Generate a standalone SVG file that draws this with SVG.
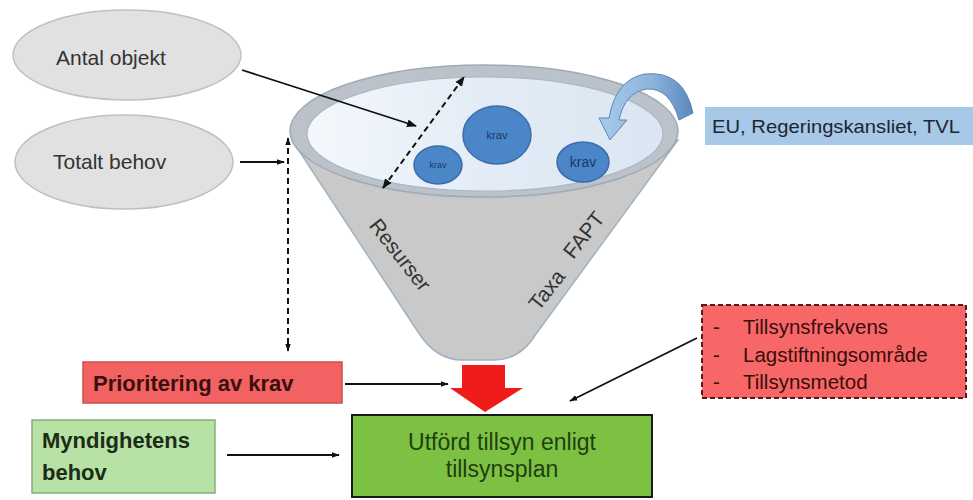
<svg xmlns="http://www.w3.org/2000/svg" width="973" height="500" viewBox="0 0 973 500">
  <defs>
    <style>
      .t { font-family: "Liberation Sans", Arial, sans-serif; }
      .oval { fill: #e1e1e1; stroke: #b6c2ce; stroke-width: 1.5; }
      .conn { stroke: #111; stroke-width: 1.8; fill: none; }
      .dash { stroke: #111; stroke-width: 2; fill: none; stroke-dasharray: 6 4; }
      .krav { fill: #4a86c8; stroke: #3a6ea8; stroke-width: 1.5; }
      .kt { font-family: "Liberation Sans", Arial, sans-serif; fill: #1c3766; text-anchor: middle; }
    </style>
    <marker id="ah" viewBox="0 0 10 10" refX="9" refY="5" markerWidth="8" markerHeight="8" orient="auto-start-reverse" markerUnits="userSpaceOnUse">
      <path d="M0,1.5 L10,5 L0,8.5 Z" fill="#111"/>
    </marker>
    <marker id="ah2" viewBox="0 0 10 10" refX="9" refY="5" markerWidth="10" markerHeight="10" orient="auto-start-reverse" markerUnits="userSpaceOnUse">
      <path d="M0,1 L10,5 L0,9 Z" fill="#111"/>
    </marker>
    <linearGradient id="inner" x1="0" y1="0" x2="1" y2="0">
      <stop offset="0" stop-color="#f4f8fc"/>
      <stop offset="0.5" stop-color="#e3ecf6"/>
      <stop offset="1" stop-color="#dbe6f2"/>
    </linearGradient>
    <linearGradient id="curl" x1="0" y1="0" x2="1" y2="0">
      <stop offset="0" stop-color="#a9caea"/>
      <stop offset="0.55" stop-color="#8db4dc"/>
      <stop offset="1" stop-color="#5a88bd"/>
    </linearGradient>
  </defs>
  <rect width="973" height="500" fill="#ffffff"/>

  <g id="funnel">
    <path d="M292,140 L418,332 Q436,360 462,360 L494,360 Q520,360 536,334 L678,140 Z" fill="#c9c9c9" stroke="#9fb2c4" stroke-width="1.5"/>
    <ellipse cx="484" cy="131" rx="194" ry="66" fill="#bcc2c9" stroke="#9eaab6" stroke-width="1.5"/>
    <ellipse cx="485" cy="134" rx="178" ry="57" fill="url(#inner)" stroke="#a9b8c8" stroke-width="1.2"/>
    <text class="t" font-size="21" fill="#333" text-anchor="middle" transform="translate(400,255) rotate(52)" dy="7">Resurser</text>
    <text class="t" font-size="21" fill="#333" text-anchor="middle" transform="translate(547,290) rotate(-52)" dy="7">Taxa</text>
    <text class="t" font-size="21" fill="#333" text-anchor="middle" transform="translate(584,235) rotate(-52)" dy="7">FAPT</text>
  </g>

  <g id="krav1">
    <ellipse class="krav" cx="497" cy="135" rx="34" ry="29"/>
    <text class="kt" x="497" y="139" font-size="11">krav</text>
  </g>
  <g id="krav2">
    <ellipse class="krav" cx="438" cy="165" rx="24" ry="19"/>
    <text class="kt" x="438" y="168" font-size="9">krav</text>
  </g>
  <g id="krav3">
    <ellipse class="krav" cx="583" cy="162" rx="26" ry="20"/>
    <text class="kt" x="583" y="167" font-size="14">krav</text>
  </g>

  <g id="curl-arrow">
    <path d="M693,113 Q684,70 645,74 Q616,79 609,118 L599,118 L610,140 L627,120 L619,120 Q625,92 647,89 Q670,88 679,120 Z" fill="url(#curl)" stroke="#5b86b8" stroke-width="1"/>
  </g>

  <g id="antal">
    <ellipse class="oval" cx="127" cy="55" rx="114" ry="45"/>
    <text class="t" x="56" y="65" font-size="21" fill="#333">Antal objekt</text>
  </g>
  <g id="totalt">
    <ellipse class="oval" cx="124" cy="162" rx="109" ry="47"/>
    <text class="t" x="53" y="169" font-size="21" fill="#333">Totalt behov</text>
  </g>

  <g id="eu">
    <rect x="705" y="107" width="268" height="38" fill="#a8c8e8"/>
    <text class="t" x="712" y="133" font-size="19" fill="#1b2633" textLength="248" lengthAdjust="spacingAndGlyphs">EU, Regeringskansliet, TVL</text>
  </g>

  <g id="prioritering">
    <rect x="83" y="362" width="259" height="41" fill="#f26262" stroke="#c9504f" stroke-width="1.5"/>
    <text class="t" x="93" y="391" font-size="22" font-weight="bold" fill="#3a0f0f">Prioritering av krav</text>
  </g>

  <g id="myndighetens">
    <rect x="32" y="420" width="183" height="73" fill="#b8e1a6" stroke="#84ae78" stroke-width="1.5"/>
    <text class="t" x="42" y="448" font-size="22" font-weight="bold" fill="#1b2d14">Myndighetens</text>
    <text class="t" x="42" y="480" font-size="22" font-weight="bold" fill="#1b2d14">behov</text>
  </g>

  <g id="utford">
    <rect x="352" y="415" width="300" height="82" fill="#7dc143" stroke="#1a1a1a" stroke-width="2"/>
    <text class="t" x="502" y="450" font-size="23" fill="#1f3f10" text-anchor="middle">Utförd tillsyn enligt</text>
    <text class="t" x="502" y="477" font-size="23" fill="#1f3f10" text-anchor="middle">tillsynsplan</text>
  </g>

  <g id="faktorer">
    <rect x="702" y="305" width="264" height="93" fill="#f76767" stroke="#5a1a1a" stroke-width="2" stroke-dasharray="5 3"/>
    <g class="t" font-size="20.5" fill="#3a0d0d">
      <text x="713" y="334">-</text>
      <text x="743" y="334">Tillsynsfrekvens</text>
      <text x="713" y="362">-</text>
      <text x="743" y="362">Lagstiftningsområde</text>
      <text x="713" y="389">-</text>
      <text x="743" y="389">Tillsynsmetod</text>
    </g>
  </g>

  <g id="red-arrow">
    <polygon points="462,365 505,365 505,388 523,388 485,412 450,388 462,388" fill="#f01c1c"/>
  </g>

  <g id="connectors">
    <line class="conn" x1="242" y1="70" x2="416" y2="126" marker-end="url(#ah2)"/>
    <line class="conn" x1="240" y1="162" x2="284" y2="162" marker-end="url(#ah)"/>
    <line class="dash" x1="288" y1="138" x2="288" y2="351" marker-start="url(#ah)" marker-end="url(#ah)"/>
    <line class="dash" x1="383" y1="188" x2="464" y2="77" marker-start="url(#ah2)" marker-end="url(#ah2)"/>
    <line class="conn" x1="345" y1="384" x2="448" y2="384" marker-end="url(#ah)"/>
    <line class="conn" x1="227" y1="455" x2="339" y2="455" marker-end="url(#ah)"/>
    <line class="conn" x1="697" y1="338" x2="570" y2="401" marker-end="url(#ah)"/>
  </g>
</svg>
